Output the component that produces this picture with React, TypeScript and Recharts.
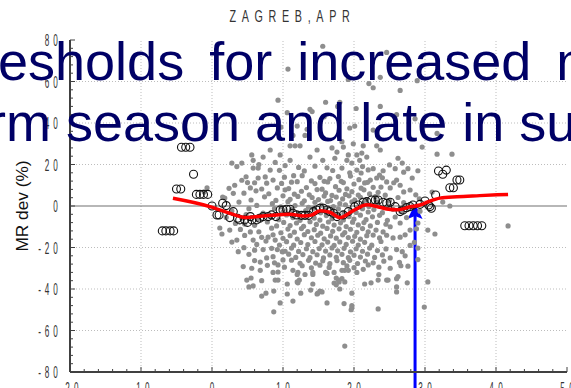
import { ComposedChart, ReferenceLine, Scatter, XAxis, YAxis } from 'recharts'

type Pt = [number, number]

// daily MR deviation vs temperature (gray cloud)
const cloudHigh: Pt[] = [
  [1.56, 77], [2.46, 74], [1.07, 66], [1.92, 61], [2.37, 62], [2.21, 59], [2.27, 57], [2.65, 55.7], [2.89, 60.4],
  [0.93, 51], [1.6, 50], [1.8, 50], [1.77, 48], [1.38, 46.6], [1.41, 45.5], [1.06, 45], [2.37, 48], [2.03, 47],
  [2.86, 42], [2.6, 44], [1.58, 43], [0.97, 38], [1.2, 38.5], [1.14, 34], [1.34, 37], [1.31, 34], [1.94, 37.6],
  [2.01, 38.5], [2.27, 36.6], [3.17, 35], [1.83, 31], [1.99, 30], [1.85, 28.4], [2.13, 29], [2.32, 29], [2.37, 27],
  [2.96, 28.4], [1.1, 29], [1.17, 29], [1.24, 29], [0.82, 27], [0.56, 24.6], [0.72, 23.6], [0.96, 24.6], [1.48, 27],
  [1.69, 28], [1.76, 26], [3.17, 25], [3.38, 25], [1.92, 24.6], [2.04, 24.6], [2.11, 25.5], [2.18, 23.6], [2.62, 23],
  [0.28, 20.7], [0.42, 20.7], [0.58, 22], [0.89, 21], [1.1, 22], [1.38, 23.6], [1.56, 22], [1.73, 23], [1.9, 22],
  [2.08, 22], [2.68, 20.7], [1.97, 20.7], [0.58, 18.3], [0.65, 18.3], [0.82, 17.3], [1.83, 18.3], [1.94, 16],
  [2.04, 17.3], [2.27, 18], [2.41, 17], [2.58, 18], [2.76, 18], [2.9, 17], [0.35, 19], [0.66, 20], [1.03, 19.5],
  [1.22, 18.6], [1.45, 19.2], [1.62, 18.4], [2.12, 19], [2.5, 19.8],
]

const cloudMid: Pt[] = [
  [-0.07, 8.7], [-0.11, 6.7], [0.11, -10.6], [0.14, -13.5], [0.25, -11.6], [0.32, 10], [0.42, -5.8], [0.46, -8.7],
  [0.54, 8.7], [0.65, 13.5], [0.75, 14], [0.77, 11], [0.86, 12.5], [0.92, 8.7], [0.54, -12.5], [0.58, -16.4],
  [0.35, -16.4], [0.37, -22], [0.79, -15], [0.89, -16.4], [0.92, -21], [0.72, -21], [0.77, -25], [0.68, -27],
  [0.99, -22], [1.0, -26], [0.15, 4.3], [0.45, 6.2],
  [2.23, 12.5], [2.32, 13.5], [2.46, 11.6], [2.6, 12.5], [2.82, 13.5], [2.27, 9], [2.51, 8.7], [2.65, 10],
  [2.79, 7.7], [3.1, 6.7], [3.25, 1.9], [3.35, 0], [3.04, -11.6], [3.14, -13.5], [4.17, -9.6], [2.65, -8.2],
  [2.79, -11.6], [2.51, -10], [2.41, -12.5], [2.27, -14], [2.55, -15.4], [2.65, -15], [2.6, -21], [2.68, -22],
  [2.51, -25], [2.79, -19],
  [0.48, 14.1], [0.95, 17.2], [1.15, 14.6], [1.3, 16.9], [1.52, 13.8], [1.7, 17.1], [1.78, 14.2], [2.1, 15.9],
  [2.2, 17.4], [2.36, 14.9], [2.7, 16.3],
  [0.42, 12.4], [0.6, 11.2], [1.02, 13.9], [1.12, 11.5], [1.27, 14.6], [1.4, 12.1], [1.58, 11.9], [1.66, 13.2],
  [1.85, 11.3], [1.95, 14.4], [2.07, 12.7], [2.15, 11.1], [2.4, 13.6],
  [0.24, 8.5], [0.5, 11.3], [0.7, 8.2], [0.98, 10.9], [1.08, 8.4], [1.2, 11.7], [1.33, 8.9], [1.45, 10.8],
  [1.55, 8.1], [1.63, 11.6], [1.74, 9.3], [1.82, 11.9], [1.9, 8.3], [2.0, 10.6], [2.1, 8.6], [2.19, 11.4],
  [2.38, 9.1], [2.56, 11.2],
  [0.3, 6.1], [0.62, 7.3], [0.8, 5.9], [1.03, 7.8], [1.16, 5.7], [1.26, 7.1], [1.37, 5.4], [1.48, 7.9], [1.6, 6.3],
  [1.69, 5.1], [1.79, 7.6], [1.88, 5.6], [1.97, 6.9], [2.06, 5.3], [2.14, 7.8], [2.22, 5.8], [2.34, 6.6], [2.44, 5.2],
  [2.7, 6.8], [2.87, 5.4],
  [0.18, 3.8], [0.55, 2.9], [0.74, 4.4], [0.9, 2.7], [1.0, 4.9], [1.1, 3.2], [1.21, 4.6], [1.3, 2.5], [1.41, 4.1],
  [1.5, 3.1], [1.58, 4.8], [1.67, 2.6], [1.75, 4.3], [1.84, 3.4], [1.93, 4.9], [2.01, 2.8], [2.09, 4.2], [2.17, 3.0],
  [2.3, 4.5], [2.5, 2.7], [2.62, 4.1], [2.92, 3.5],
  [0.38, 1.9], [0.63, 0.3], [0.85, 1.1], [0.97, -0.4], [1.07, 2.1], [1.17, 0.2], [1.27, 1.3], [1.36, -0.6], [1.45, 1.8],
  [1.54, 0.4], [1.63, 2.2], [1.71, -0.3], [1.8, 1.2], [1.88, 0.6], [1.97, 2.0], [2.05, -0.5], [2.13, 1.1], [2.21, -0.2],
  [2.33, 1.9], [2.48, 0.1], [2.7, 1.6], [2.82, -0.4],
  [0.28, -2.4], [0.52, -1.3], [0.72, -3.4], [0.88, -1.2], [1.0, -2.9], [1.12, -1.6], [1.22, -3.6], [1.32, -2.2],
  [1.43, -1.1], [1.53, -3.3], [1.6, -1.9], [1.7, -2.8], [1.78, -1.4], [1.86, -3.5], [1.95, -2.1], [2.03, -3.1],
  [2.12, -1.3], [2.2, -2.9], [2.28, -1.7], [2.4, -3.2], [2.55, -1.6], [2.66, -2.7], [2.93, -2.5],
  [0.2, -5.5], [0.48, -4.2], [0.64, -6.4], [0.82, -4.9], [0.94, -6.6], [1.05, -4.3], [1.14, -5.6], [1.24, -6.9],
  [1.35, -4.4], [1.44, -5.8], [1.52, -6.8], [1.61, -4.6], [1.69, -6.1], [1.77, -4.8], [1.85, -6.7], [1.93, -5.1],
  [2.0, -6.3], [2.09, -4.4], [2.17, -6.6], [2.26, -5.2], [2.36, -4.5], [2.47, -6.9], [2.58, -5.3], [2.74, -5.6],
  [0.33, -8.4], [0.6, -9.3], [0.78, -7.7], [0.91, -9.6], [1.01, -7.9], [1.1, -9.4], [1.19, -8.2], [1.29, -9.8],
  [1.38, -7.6], [1.47, -8.9], [1.56, -9.7], [1.64, -7.7], [1.72, -9.2], [1.81, -8.1], [1.89, -9.9], [1.98, -7.8],
  [2.06, -9.1], [2.14, -8.0], [2.23, -9.6], [2.33, -7.9], [2.45, -8.8], [2.9, -8.2],
  [0.4, -11.3], [0.66, -12.4], [0.84, -10.7], [0.97, -12.9], [1.07, -11.1], [1.16, -12.6], [1.26, -10.9],
  [1.35, -12.3], [1.44, -11.4], [1.53, -13.1], [1.62, -10.8], [1.7, -12.2], [1.79, -11.0], [1.87, -12.8],
  [1.95, -11.2], [2.04, -12.7], [2.12, -10.9], [2.2, -12.4], [2.31, -11.6], [2.88, -11],
  [0.46, -14.2], [0.7, -15.1], [0.86, -13.9], [1.0, -15.6], [1.1, -14.3], [1.2, -15.9], [1.3, -13.8], [1.4, -15.3],
  [1.49, -14.1], [1.58, -15.8], [1.67, -14.4], [1.75, -15.5], [1.84, -13.9], [1.92, -15.2], [2.01, -14.6],
  [2.09, -16.0], [2.18, -14.3], [2.36, -15.4], [2.46, -14.1], [2.72, -13.9],
  [0.28, -17.4], [0.63, -18.5], [0.76, -16.9], [0.95, -18.8], [1.05, -17.2], [1.15, -18.9], [1.25, -17.6],
  [1.35, -18.6], [1.45, -17.1], [1.55, -18.7], [1.63, -17.4], [1.72, -19.0], [1.8, -17.3], [1.89, -18.5],
  [1.98, -17.0], [2.06, -18.8], [2.15, -17.5], [2.25, -18.9], [2.38, -17.1], [2.85, -17.5],
  [0.45, -20.1], [0.6, -21.3], [0.84, -20.4], [1.03, -21.8], [1.12, -20.3], [1.22, -21.9], [1.33, -20.6],
  [1.42, -22.0], [1.51, -20.5], [1.6, -21.7], [1.69, -20.2], [1.77, -21.6], [1.86, -20.4], [1.95, -22.1],
  [2.03, -20.6], [2.12, -21.8], [2.22, -20.3], [2.33, -21.5], [2.45, -20.7], [2.9, -20.3],
  [0.52, -23.3], [0.86, -24.4], [1.08, -23.2], [1.18, -24.8], [1.28, -23.4], [1.38, -24.9], [1.48, -23.5],
  [1.57, -25.0], [1.66, -23.6], [1.75, -24.7], [1.83, -23.3], [1.92, -24.9], [2.0, -23.7], [2.09, -24.6],
  [2.19, -23.2], [2.29, -24.8], [2.4, -23.6], [2.72, -24],
  [0.6, -26.3], [0.88, -27.4], [1.12, -26.1], [1.24, -27.6], [1.36, -26.2], [1.46, -27.5], [1.56, -26.4],
  [1.66, -27.8], [1.76, -26.3], [1.85, -27.3], [1.94, -26.2], [2.05, -27.7], [2.16, -26.5], [2.27, -27.4],
  [2.42, -26.6], [2.64, -27.2], [2.9, -25.8],
]

const cloudLow: Pt[] = [
  [0.44, -29.2], [0.78, -28.6], [1.02, -29.5], [1.27, -28.8], [1.4, -29.8], [1.52, -28.5], [1.65, -29.6],
  [1.9, -28.9], [2.0, -29.7], [2.2, -28.4], [2.35, -29.5], [2.66, -28.8],
  [2.04, -32], [2.15, -37.6], [2.24, -37], [2.34, -35.7], [2.35, -33], [2.46, -35.7], [2.48, -35.7], [2.62, -34],
  [2.6, -35], [2.6, -39], [2.6, -41.4], [2.75, -37], [2.76, -29], [3.04, -36.6], [2.99, -48.7], [2.34, -49.6],
  [1.97, -42], [1.86, -47], [1.97, -48], [1.97, -49], [1.96, -50], [1.87, -67.5], [1.87, -36.6], [1.83, -35],
  [1.8, -40], [1.87, -31], [1.83, -31], [1.92, -31], [2.13, -30.5], [2.51, -30],
  [0.56, -30], [0.68, -31], [0.7, -36], [0.49, -35.7], [0.55, -34.7], [0.52, -39], [0.58, -38.5], [0.7, -43.4],
  [0.76, -42], [0.87, -41], [0.96, -46.7], [0.87, -51], [0.89, -35.7], [0.93, -35.7], [0.86, -32], [0.93, -31.8],
  [0.93, -28.4], [1.06, -37.6], [1.06, -42.4], [1.14, -45.8], [1.25, -42], [1.2, -36.6], [1.21, -37], [1.23, -35.7],
  [1.14, -31], [1.21, -32], [1.2, -33], [1.31, -33], [1.42, -32], [1.42, -33], [1.42, -37.6], [1.39, -40.5],
  [1.48, -42.4], [1.49, -42], [1.52, -41], [1.55, -41.4], [1.62, -46.7], [1.6, -32], [1.62, -32.5], [1.72, -32],
  [1.75, -34.7], [1.78, -35.7], [1.79, -36.6], [1.72, -37.1], [1.75, -38],
]

// binned means (open circles)
const binMeans: Pt[] = [
  [-0.7, -12], [-0.65, -12], [-0.59, -12], [-0.54, -12], [-0.43, 28.3], [-0.37, 28.3], [-0.31, 28.3],
  [-0.5, 8.2], [-0.44, 8.2], [-0.26, 15.3], [-0.22, 5.6], [-0.17, 5.6], [-0.12, 5.6], [-0.06, 5.6],
  [0, 0], [0.07, -4.3], [0.1, -4.3], [0.15, 1.3], [0.2, 0.2], [0.25, -5.6], [0.3, -2.7], [0.36, -5.9],
  [0.39, -6.7], [0.46, -6.7], [0.5, -7.9], [0.54, -5.1], [0.56, -6.7], [0.63, -6.7], [0.67, -5.9], [0.72, -5.1],
  [0.79, -5.1], [0.84, -4.3], [0.9, -5.1], [0.96, -1.9], [1.0, -1.9], [1.05, -1.6], [1.1, -1.6], [1.14, -3.5],
  [1.19, -4.3], [1.26, -4.5], [1.31, -4.5], [1.36, -4.5], [1.43, -2.7], [1.47, -1.9], [1.52, -1.1], [1.57, -1.1],
  [1.62, -1.9], [1.66, -2.7], [1.71, -3.5], [1.76, -5.1], [1.85, -4.3], [1.92, -2.7], [2.01, -0.3], [2.06, 0.5],
  [2.13, 1.8], [2.18, 2.1], [2.25, 2.9], [2.3, 2.9], [2.34, 2.9], [2.41, 1.8], [2.46, 1.3], [2.51, 1.8],
  [2.58, -0.3], [2.65, -2.7], [2.69, -1.9], [2.74, -0.8], [2.79, -0.3], [2.83, 0.5], [2.93, 0.8], [3.0, 2.4],
  [3.05, 0.5], [3.07, -0.3], [3.09, -1.1], [3.15, 5.3], [3.19, 16.9], [3.25, 15.3], [3.3, 17.3], [3.35, 8.8],
  [3.4, 8.8], [3.45, 12.5], [3.49, 12.5], [3.56, -9.5], [3.62, -9.5], [3.68, -9.5], [3.74, -9.5], [3.8, -9.5],
]

// smoothed curve (red)
const smoothCurve: Pt[] = [
  [-0.55, 3.7], [-0.03, -0.3], [0.25, -3.5], [0.49, -5.6], [0.68, -4.9], [0.91, -4.3], [1.1, -4], [1.29, -4.8],
  [1.4, -4.4], [1.52, -2.3], [1.66, -3], [1.8, -5.6], [1.99, -2.2], [2.18, 0.6], [2.32, -0.2], [2.46, -1.4],
  [2.62, -1.8], [2.79, -0.4], [2.93, 0.5], [3.05, 2.1], [3.21, 3.8], [3.45, 4.5], [3.77, 5], [4.17, 5.6],
]

const thresholdX = 2.86
const arrowFrom = -95
const arrowTip = 1

const xMajor = [-2, -1, 0, 1, 2, 3, 4, 5]
const yMajor = [-80, -60, -40, -20, 0, 20, 40, 60, 80]
const gridX = [-1, 0, 1, 2, 3, 4]
const gridY = [-60, -40, -20, 20, 40, 60]

// minor ticks: 5 per unit on x, every 4 on y
const xTicks: number[] = []
for (let i = xMajor[0] * 5; i <= xMajor[xMajor.length - 1] * 5; i++) xTicks.push(i / 5)
const yTicks: number[] = []
for (let v = yMajor[0]; v <= yMajor[yMajor.length - 1]; v += 4) yTicks.push(v)

const toXY = (pts: Pt[]) => pts.map(([x, y]) => ({ x, y }))
const cloud = toXY([...cloudHigh, ...cloudMid, ...cloudLow])

const FONT = '"Liberation Sans", Arial, sans-serif'
const AXIS = '#404040'
const isXMajor = (v: number) => Math.abs(v - Math.round(v)) < 1e-6
const isYMajor = (v: number) => v % 20 === 0
const fmtX = (v: number) => (v === 0 ? '0' : v.toFixed(1))

function BottomTick({ x, y, payload }: any) {
  const major = isXMajor(payload.value)
  return (
    <g>
      <line x1={x} x2={x} y1={y} y2={y - (major ? 5 : 3)} stroke={AXIS} />
      {major && (
        <text
          transform={`translate(${x + 0.5},${y + 22}) scale(0.5,1)`}
          textAnchor="middle"
          fontSize={16.3}
          letterSpacing={2}
          fontFamily={FONT}
          fill="#333"
        >
          {fmtX(payload.value)}
        </text>
      )}
    </g>
  )
}

function TopTick({ x, y, payload }: any) {
  const major = isXMajor(payload.value)
  return <line x1={x} x2={x} y1={y} y2={y + (major ? 5 : 3)} stroke={AXIS} />
}

function LeftTick({ x, y, payload }: any) {
  const major = isYMajor(payload.value)
  return (
    <g>
      <line x1={x} x2={x + (major ? 5 : 3)} y1={y} y2={y} stroke={AXIS} />
      {major && (
        <text
          transform={`translate(${x - 8.5},${y + 6}) scale(0.5,1)`}
          textAnchor="end"
          fontSize={16.3}
          letterSpacing={7.6}
          fontFamily={FONT}
          fill="#333"
        >
          {String(payload.value)}
        </text>
      )}
    </g>
  )
}

function RightTick({ x, y, payload }: any) {
  const major = isYMajor(payload.value)
  return <line x1={x} x2={x - (major ? 5 : 3)} y1={y} y2={y} stroke={AXIS} />
}

function Arrow({ x1, y1, x2, y2 }: any) {
  const top = Math.min(y1, y2)
  const bottom = Math.max(y1, y2)
  const cx = x2
  return (
    <g>
      <line x1={cx} x2={cx} y1={bottom} y2={top + 12} stroke="#0000ff" strokeWidth={3} />
      <polygon
        points={`${cx},${top} ${cx - 7.5},${top + 15} ${cx},${top + 12} ${cx + 7.5},${top + 15}`}
        fill="#0000ff"
      />
    </g>
  )
}

const grayDot = ({ cx, cy }: any) => <circle cx={cx} cy={cy} r={2.6} fill="#8e8e8e" />
const openCircle = ({ cx, cy }: any) => (
  <circle cx={cx} cy={cy} r={4} fill="none" stroke="#111" strokeWidth={1.1} />
)

export default function App() {
  return (
    <div style={{ position: 'absolute', left: 0, top: 0, width: 571, height: 388, overflow: 'hidden', background: '#fff' }}>
      <ComposedChart width={571} height={388} margin={{ top: 40, right: 4, bottom: 0, left: 0 }}>
        <XAxis
          xAxisId="b"
          dataKey="x"
          type="number"
          domain={[-2, 5]}
          ticks={xTicks}
          interval={0}
          height={16}
          tickSize={0}
          tickMargin={0}
          tickLine={false}
          tick={<BottomTick />}
          axisLine={{ stroke: AXIS, strokeWidth: 2 }}
          allowDataOverflow
        />
        <XAxis
          xAxisId="t"
          orientation="top"
          type="number"
          domain={[-2, 5]}
          ticks={xTicks}
          interval={0}
          height={0}
          tickSize={0}
          tickMargin={0}
          tickLine={false}
          tick={<TopTick />}
          axisLine={{ stroke: AXIS, strokeWidth: 1.5 }}
          allowDataOverflow
        />
        <YAxis
          yAxisId="l"
          dataKey="y"
          type="number"
          domain={[-80, 80]}
          ticks={yTicks}
          interval={0}
          width={70}
          tickSize={0}
          tickMargin={0}
          tickLine={false}
          tick={<LeftTick />}
          axisLine={{ stroke: AXIS, strokeWidth: 2 }}
          allowDataOverflow
        />
        <YAxis
          yAxisId="r"
          orientation="right"
          type="number"
          domain={[-80, 80]}
          ticks={yTicks}
          interval={0}
          width={0}
          tickSize={0}
          tickMargin={0}
          tickLine={false}
          tick={<RightTick />}
          axisLine={{ stroke: AXIS, strokeWidth: 1.5 }}
          allowDataOverflow
        />

        {gridX.map((v) => (
          <ReferenceLine key={`gx${v}`} xAxisId="b" yAxisId="l" x={v} stroke="#bdbdbd" strokeDasharray="1 2" />
        ))}
        {gridY.map((v) => (
          <ReferenceLine key={`gy${v}`} xAxisId="b" yAxisId="l" y={v} stroke="#bdbdbd" strokeDasharray="1 2" />
        ))}
        <ReferenceLine xAxisId="b" yAxisId="l" y={0} stroke="#707070" strokeWidth={1.2} />

        <Scatter xAxisId="b" yAxisId="l" data={cloud} shape={grayDot} isAnimationActive={false} />
        <Scatter xAxisId="b" yAxisId="l" data={toXY(binMeans)} shape={openCircle} isAnimationActive={false} />
        <Scatter
          xAxisId="b"
          yAxisId="l"
          data={toXY(smoothCurve)}
          line={{ stroke: '#ff0000', strokeWidth: 3.5 }}
          lineType="joint"
          lineJointType="monotoneX"
          shape={() => <g />}
          isAnimationActive={false}
        />
        <ReferenceLine
          xAxisId="b"
          yAxisId="l"
          segment={[
            { x: thresholdX, y: arrowFrom },
            { x: thresholdX, y: arrowTip },
          ]}
          ifOverflow="visible"
          shape={<Arrow />}
        />
      </ComposedChart>

      <svg width={571} height={388} style={{ position: 'absolute', left: 0, top: 0, pointerEvents: 'none' }}>
        <text transform="translate(292.4,21.7) scale(0.66,1)" textAnchor="middle" fontSize={16.3} letterSpacing={8.6} fontFamily={FONT} fill="#333">
          ZAGREB,APR
        </text>
        <text transform="translate(28,206) rotate(-90)" textAnchor="middle" fontSize={17.3} fontFamily={FONT} fill="#111">
          MR dev (%)
        </text>
        <text x={-2} y={80} fontSize={54} wordSpacing={10} fontFamily={FONT} fill="#000066">
          esholds for increased m
        </text>
        <text x={-12} y={141} fontSize={54} wordSpacing={0} fontFamily={FONT} fill="#000066">
          rm season and late in su
        </text>
      </svg>
    </div>
  )
}
